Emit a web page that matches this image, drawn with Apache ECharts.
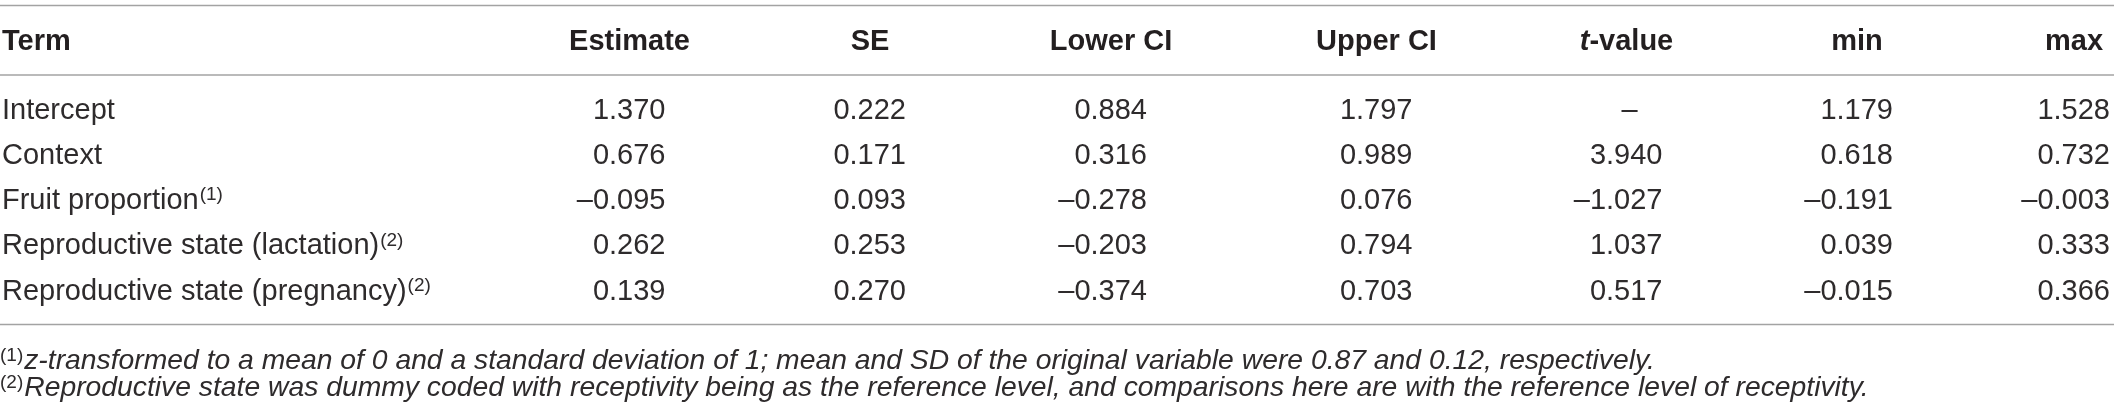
<!DOCTYPE html>
<html><head><meta charset="utf-8">
<script src="https://cdn.jsdelivr.net/npm/echarts@6/dist/echarts.min.js"></script>
<style>html,body{margin:0;padding:0;background:#fff}#c{width:2117px;height:416px}</style>
</head><body><div id="c"></div>
<script>
// ---------- data ----------
const headers = ['Term', 'Estimate', 'SE', 'Lower CI', 'Upper CI', 't-value', 'min', 'max'];
const terms = ['Intercept', 'Context', 'Fruit proportion', 'Reproductive state (lactation)', 'Reproductive state (pregnancy)'];
const termNotes = ['', '', '(1)', '(2)', '(2)'];
const estimate = [1.370, 0.676, -0.095, 0.262, 0.139];
const se = [0.222, 0.171, 0.093, 0.253, 0.270];
const lowerCI = [0.884, 0.316, -0.278, -0.203, -0.374];
const upperCI = [1.797, 0.989, 0.076, 0.794, 0.703];
const tValue = [null, 3.940, -1.027, 1.037, 0.517];
const minVal = [1.179, 0.618, -0.191, 0.039, -0.015];
const maxVal = [1.528, 0.732, -0.003, 0.333, 0.366];
const noteMarks = ['(1)', '(2)'];
const noteTexts = [
  'z-transformed to a mean of 0 and a standard deviation of 1; mean and SD of the original variable were 0.87 and 0.12, respectively.',
  'Reproductive state was dummy coded with receptivity being as the reference level, and comparisons here are with the reference level of receptivity.'
];

// ---------- layout / style ----------
const W = 2117, H = 416;
const FAM = '"Liberation Sans", Arial, Helvetica, sans-serif';
const FS = 29, SUP = 19, NOTE_FS = 28.3;
const INK = '#231f20';
const BODY_INK = '#2e2b2c';
const RULE = '#a3a3a3';
const colCenter = [2, 629.5, 870, 1111, 1376.5, 1626.5, 1857, 2074];
const numHalf = 36;
const numCols = [estimate, se, lowerCI, upperCI, tValue, minVal, maxVal];

const bodyFont = FS + 'px ' + FAM;
const supFont = SUP + 'px ' + FAM;
const itFont = 'italic ' + NOTE_FS + 'px ' + FAM;
const boldFont = 'bold ' + FS + 'px ' + FAM;

const mctx = document.createElement('canvas').getContext('2d');
function tw(text, font) { mctx.font = font; return mctx.measureText(text).width; }
function fmt(v) { return (v < 0 ? '\u2013' : '') + Math.abs(v).toFixed(3); }

const chart = echarts.init(document.getElementById('c'), null, {renderer: 'canvas', width: W, height: H});

chart.setOption({
  backgroundColor: '#ffffff',
  animation: false,
  grid: {left: 0, right: 0, top: 88.1, height: 226.25},
  xAxis: {type: 'value', min: 0, max: W, show: false},
  yAxis: {type: 'category', data: terms, inverse: true, show: false},
  series: [{
    type: 'custom',
    encode: {x: 0, y: 1},
    data: terms.map((t, i) => [0, i]),
    renderItem: function (params, api) {
      const r = api.value(1);
      const y = api.coord([0, r])[1];
      const children = [];
      const tx = api.coord([colCenter[0], r])[0];
      children.push({type: 'text', style: {text: terms[r], x: tx, y: y, font: bodyFont, fill: BODY_INK, align: 'left', verticalAlign: 'middle'}});
      if (termNotes[r]) {
        const w = tw(terms[r], bodyFont);
        children.push({type: 'text', style: {text: termNotes[r], x: tx + w + 1, y: y - 6, font: supFont, fill: BODY_INK, align: 'left', verticalAlign: 'middle'}});
      }
      numCols.forEach((arr, k) => {
        const v = arr[r];
        const cx = api.coord([colCenter[k + 1], r])[0];
        if (v == null) {
          children.push({type: 'text', style: {text: '\u2013', x: cx + 3, y: y, font: bodyFont, fill: BODY_INK, align: 'center', verticalAlign: 'middle'}});
        } else {
          children.push({type: 'text', style: {text: fmt(v), x: cx + numHalf, y: y, font: bodyFont, fill: BODY_INK, align: 'right', verticalAlign: 'middle'}});
        }
      });
      return {type: 'group', children: children};
    }
  }]
});

// header, rules and footnotes
const px = v => chart.convertToPixel({xAxisIndex: 0}, v);
const graphics = [];
[5.5, 75, 324.5].forEach(yy => {
  graphics.push({type: 'line', shape: {x1: 0, y1: yy, x2: 2114, y2: yy}, style: {stroke: RULE, lineWidth: 1.6}, silent: true});
});
const headY = 41.7;
headers.forEach((h, k) => {
  const x = px(colCenter[k]);
  let style;
  if (h === 't-value') {
    style = {text: '{i|t}{b|-value}', rich: {i: {font: 'italic bold ' + FS + 'px ' + FAM, fill: INK}, b: {font: boldFont, fill: INK}}};
  } else {
    style = {text: h, font: boldFont, fill: INK};
  }
  style.x = x; style.y = headY; style.align = k === 0 ? 'left' : 'center'; style.verticalAlign = 'middle';
  graphics.push({type: 'text', style: style, silent: true});
});
const noteY = [361.5, 388.3];
noteMarks.forEach((m, i) => {
  const w = tw(m, supFont);
  graphics.push({type: 'text', style: {text: m, x: 0, y: noteY[i] - 6, font: supFont, fill: BODY_INK, align: 'left', verticalAlign: 'middle'}, silent: true});
  graphics.push({type: 'text', style: {text: noteTexts[i], x: w + 1, y: noteY[i], font: itFont, fill: BODY_INK, align: 'left', verticalAlign: 'middle'}, silent: true});
});
chart.setOption({graphic: {elements: graphics}});
</script>
</body></html>
